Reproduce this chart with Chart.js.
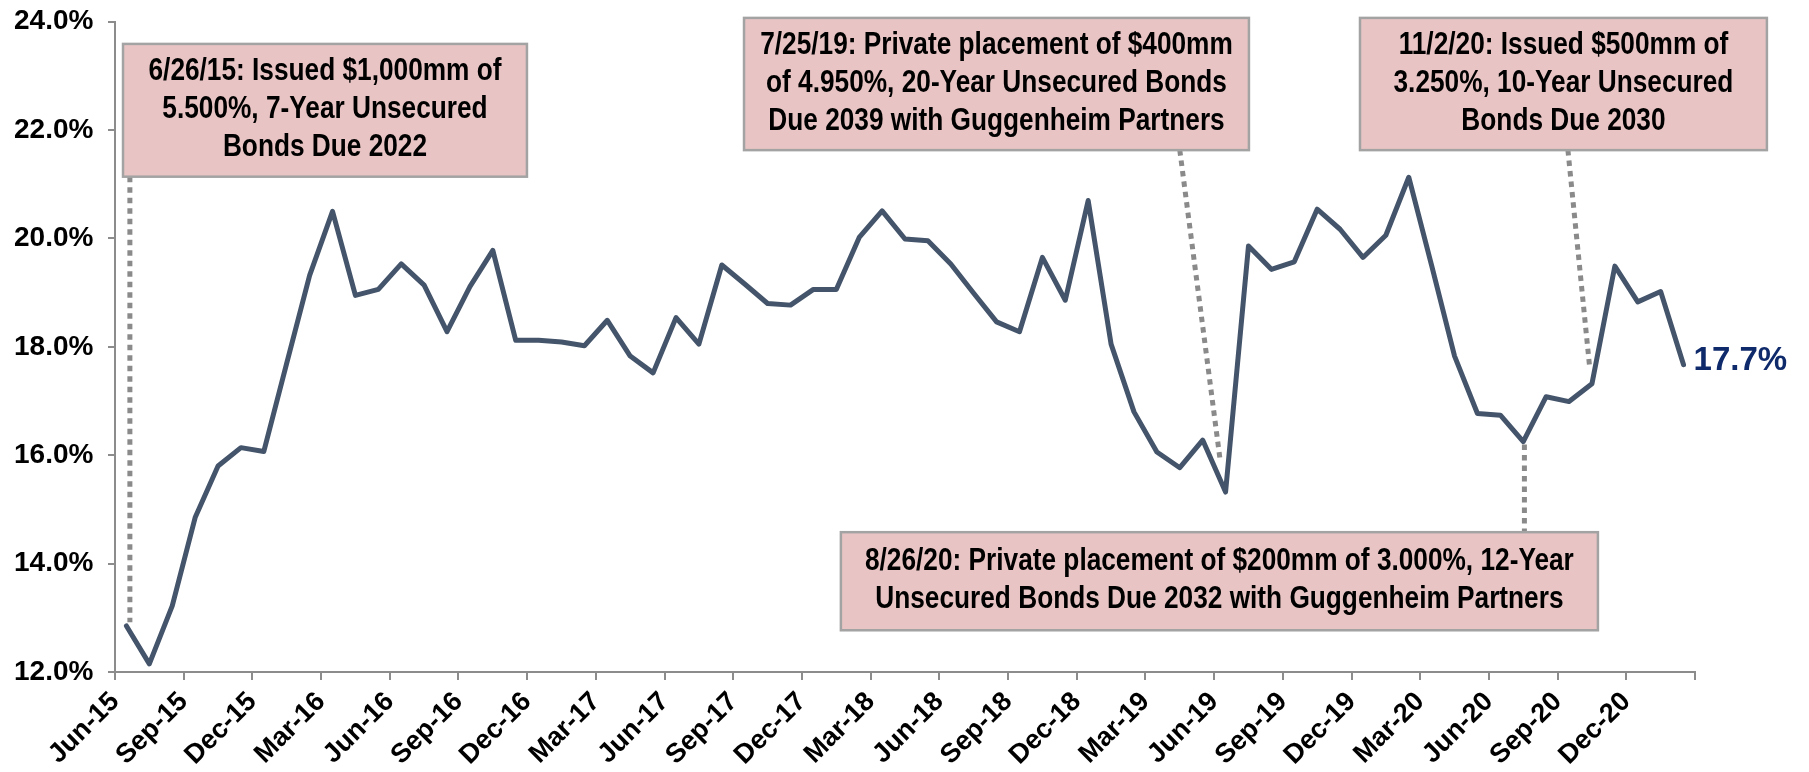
<!DOCTYPE html>
<html>
<head>
<meta charset="utf-8">
<script src="https://cdn.jsdelivr.net/npm/chart.js@4.4.1/dist/chart.umd.min.js"></script>
<style>
html, body { margin: 0; padding: 0; background: #fff; overflow: hidden; }
#wrap { width: 1809px; height: 772px; }
</style>
</head>
<body>
<div id="wrap"><canvas id="mycanvas" width="1809" height="772"></canvas></div>
<script>
// monthly categories, Jun-15 .. Feb-21
var months = [
  'Jun-15','Jul-15','Aug-15','Sep-15','Oct-15','Nov-15','Dec-15',
  'Jan-16','Feb-16','Mar-16','Apr-16','May-16','Jun-16','Jul-16','Aug-16','Sep-16','Oct-16','Nov-16','Dec-16',
  'Jan-17','Feb-17','Mar-17','Apr-17','May-17','Jun-17','Jul-17','Aug-17','Sep-17','Oct-17','Nov-17','Dec-17',
  'Jan-18','Feb-18','Mar-18','Apr-18','May-18','Jun-18','Jul-18','Aug-18','Sep-18','Oct-18','Nov-18','Dec-18',
  'Jan-19','Feb-19','Mar-19','Apr-19','May-19','Jun-19','Jul-19','Aug-19','Sep-19','Oct-19','Nov-19','Dec-19',
  'Jan-20','Feb-20','Mar-20','Apr-20','May-20','Jun-20','Jul-20','Aug-20','Sep-20','Oct-20','Nov-20','Dec-20',
  'Jan-21','Feb-21'
];

// ratio in %
var ratio = [
  12.85, 12.15, 13.22, 14.85, 15.80, 16.14, 16.07,
  17.70, 19.32, 20.50, 18.95, 19.06, 19.53, 19.14, 18.28, 19.11, 19.78, 18.12, 18.12,
  18.09, 18.02, 18.49, 17.83, 17.52, 18.54, 18.05, 19.51, 19.16, 18.80, 18.77, 19.06,
  19.06, 20.02, 20.51, 19.99, 19.96, 19.53, 18.99, 18.46, 18.28, 19.65, 18.86, 20.70,
  18.05, 16.80, 16.06, 15.77, 16.28, 15.32, 19.86, 19.43, 19.57, 20.54, 20.17, 19.65,
  20.06, 21.13, 19.50, 17.83, 16.77, 16.74, 16.25, 17.08, 16.99, 17.32, 19.49, 18.83,
  19.02, 17.67
];

var yMin = 12, yMax = 24, yStep = 2;

// callouts: box given in axis units [x0, x1, yTop, yBottom], leader from -> to
var notes = [
  { lines: ['6/26/15: Issued $1,000mm of', '5.500%, 7-Year Unsecured', 'Bonds Due 2022'],
    box: [0.35, 17.99, 23.59, 21.14], from: [0.65, 21.14], to: [0.65, 12.92] },
  { lines: ['7/25/19: Private placement of $400mm', 'of 4.950%, 20-Year Unsecured Bonds', 'Due 2039 with Guggenheim Partners'],
    box: [27.47, 49.52, 24.07, 21.63], from: [46.5, 21.63], to: [48.25, 15.95] },
  { lines: ['11/2/20: Issued $500mm of', '3.250%, 10-Year Unsecured', 'Bonds Due 2030'],
    box: [54.37, 72.14, 24.07, 21.63], from: [63.45, 21.63], to: [64.4, 17.62] },
  { lines: ['8/26/20: Private placement of $200mm of 3.000%, 12-Year', 'Unsecured Bonds Due 2032 with Guggenheim Partners'],
    box: [31.70, 64.76, 14.58, 12.77], from: [61.55, 16.2], to: [61.55, 14.58] }
];

// is the narrow font there?
var probe = document.createElement('canvas').getContext('2d');
probe.font = 'bold 40px "Liberation Sans Narrow", monospace';
var w1 = probe.measureText('Guggenheim 123').width;
probe.font = 'bold 40px monospace';
var w2 = probe.measureText('Guggenheim 123').width;
var hasNarrow = Math.abs(w1 - w2) > 1;

var notesPlugin = {
  id: 'notes',
  beforeDatasetsDraw: function(chart) {
    var ctx = chart.ctx, xs = chart.scales.x, ys = chart.scales.y;
    ctx.save();
    ctx.strokeStyle = '#8a8a8a';
    ctx.lineWidth = 5;
    ctx.setLineDash([5.5, 5]);
    notes.forEach(function(n) {
      ctx.beginPath();
      ctx.moveTo(xs.getPixelForValue(n.from[0]), ys.getPixelForValue(n.from[1]));
      ctx.lineTo(xs.getPixelForValue(n.to[0]), ys.getPixelForValue(n.to[1]));
      ctx.stroke();
    });
    ctx.restore();
  },
  afterDatasetsDraw: function(chart) {
    var ctx = chart.ctx, xs = chart.scales.x, ys = chart.scales.y;
    ctx.save();
    notes.forEach(function(n) {
      var x0 = xs.getPixelForValue(n.box[0]), x1 = xs.getPixelForValue(n.box[1]);
      var y0 = ys.getPixelForValue(n.box[2]), y1 = ys.getPixelForValue(n.box[3]);
      ctx.fillStyle = '#e8c5c4';
      ctx.fillRect(x0, y0, x1 - x0, y1 - y0);
      ctx.strokeStyle = '#a3a3a3';
      ctx.lineWidth = 2.5;
      ctx.setLineDash([]);
      ctx.strokeRect(x0, y0, x1 - x0, y1 - y0);
      var lh = 38;
      var cx = (x0 + x1) / 2;
      var cy = (y0 + y1) / 2 - (n.lines.length - 1) * lh / 2 - 1;
      ctx.fillStyle = '#000';
      ctx.textAlign = 'center';
      ctx.textBaseline = 'middle';
      ctx.font = hasNarrow ? 'bold 32px "Liberation Sans Narrow"' : 'bold 32px "Liberation Sans"';
      n.lines.forEach(function(t, k) {
        ctx.save();
        ctx.translate(cx, cy + k * lh);
        if (!hasNarrow) ctx.scale(0.82, 1);
        ctx.fillText(t, 0, 0);
        ctx.restore();
      });
    });

    // last value label
    var meta = chart.getDatasetMeta(0);
    var last = meta.data[meta.data.length - 1];
    ctx.fillStyle = '#0f2a6b';
    ctx.font = 'bold 33px "Liberation Sans", Arial';
    ctx.textAlign = 'left';
    ctx.textBaseline = 'middle';
    ctx.fillText(ratio[ratio.length - 1].toFixed(1) + '%', last.x + 10, last.y - 4);
    ctx.restore();
  }
};

var ctx = document.getElementById('mycanvas');
var lineChart = new Chart(ctx, {
  type: 'line',
  data: {
    datasets: [{
      label: 'Ratio',
      data: ratio.map(function(v, i) { return { x: i + 0.5, y: v }; }),
      borderColor: '#44546a',
      borderWidth: 5,
      pointRadius: 0,
      tension: 0,
      borderJoinStyle: 'round',
      borderCapStyle: 'round',
      fill: false
    }]
  },
  options: {
    responsive: false,
    animation: false,
    devicePixelRatio: 1,
    layout: { padding: { left: 14, right: 114, top: 22, bottom: 0 } },
    plugins: { legend: { display: false }, tooltip: { enabled: false } },
    scales: {
      x: {
        type: 'linear',
        min: 0,
        max: months.length,
        afterFit: function(scale) { scale.height = 100; },
        border: { color: '#8c8c8c', width: 2 },
        grid: { drawOnChartArea: false, drawTicks: true, tickLength: 8, color: '#8c8c8c', lineWidth: 2 },
        ticks: {
          stepSize: 3,
          autoSkip: false,
          maxRotation: 45,
          minRotation: 45,
          padding: 6,
          color: '#000',
          font: { family: '"Liberation Sans", Arial', size: 27, weight: 'bold' },
          callback: function(v) { return months[v] || ''; }
        }
      },
      y: {
        min: yMin,
        max: yMax,
        afterFit: function(scale) { scale.width = 101; },
        border: { color: '#8c8c8c', width: 2 },
        grid: { drawOnChartArea: false, drawTicks: true, tickLength: 7, color: '#8c8c8c', lineWidth: 2 },
        ticks: {
          stepSize: yStep,
          padding: 0,
          crossAlign: 'far',
          color: '#000',
          font: { family: '"Liberation Sans", Arial', size: 28, weight: 'bold' },
          callback: function(v) { return v.toFixed(1) + '%'; }
        }
      }
    }
  },
  plugins: [notesPlugin]
});

// pin the plot area to where it sits in the original
for (var k = 0; k < 3; k++) {
  var a = lineChart.chartArea;
  var p = lineChart.options.layout.padding;
  p.top += 21.7 - a.top;
  p.right += a.right - 1695;
  lineChart.update();
}
</script>
</body>
</html>
